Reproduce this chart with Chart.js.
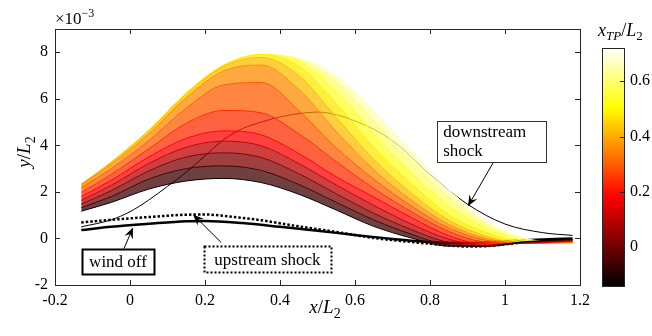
<!DOCTYPE html>
<html>
<head>
<meta charset="utf-8">
<script src="https://cdn.jsdelivr.net/npm/chart.js@4.4.1/dist/chart.umd.min.js"></script>
<style>
  html, body { margin: 0; padding: 0; background: #fff; }
  #wrap { position: relative; width: 652px; height: 336px; }
  #main { position: absolute; left: 0; top: 0; }
  #cbar { position: absolute; left: 560px; top: 0; }
</style>
</head>
<body>
<div id="wrap">
  <canvas id="main" width="652" height="336"></canvas>
  <canvas id="cbar" width="92" height="336"></canvas>
</div>
<script>
// panel deflection y/L2 (x1e-3) for each transition point x_TP/L2
const xGrid = [-0.13, -0.05, 0.05, 0.15, 0.25, 0.35, 0.45, 0.55, 0.65, 0.75, 0.85, 0.95, 1.05, 1.18];
const tpLevels = [-0.14, -0.06, 0.02, 0.10, 0.18, 0.24, 0.30, 0.36, 0.42, 0.48, 0.54, 0.60, 0.66];

const defl_m14 = [1.17, 1.55, 2.12, 2.47, 2.58, 2.40, 1.90, 1.22, 0.52, 0.02, -0.33, -0.32, -0.14, -0.03];
const defl_m06 = [1.32, 1.80, 2.55, 3.00, 3.12, 2.92, 2.32, 1.55, 0.80, 0.18, -0.28, -0.34, -0.16, -0.05];
const defl_p02 = [1.48, 2.05, 2.90, 3.50, 3.68, 3.48, 2.78, 1.92, 1.08, 0.38, -0.18, -0.33, -0.18, -0.07];
const defl_p10 = [1.64, 2.28, 3.22, 3.92, 4.18, 3.98, 3.22, 2.30, 1.42, 0.62, -0.03, -0.30, -0.19, -0.09];
const defl_p18 = [1.80, 2.50, 3.50, 4.30, 4.62, 4.45, 3.65, 2.65, 1.78, 0.90, 0.12, -0.25, -0.20, -0.11];
const defl_p24 = [1.98, 2.75, 3.85, 4.95, 5.50, 5.40, 4.50, 3.30, 2.15, 1.15, 0.30, -0.16, -0.21, -0.13];
const defl_p30 = [2.18, 3.00, 4.20, 5.60, 6.60, 6.70, 5.50, 3.90, 2.55, 1.40, 0.45, -0.08, -0.22, -0.15];
const defl_p36 = [2.33, 3.20, 4.50, 6.05, 7.20, 7.45, 6.40, 4.60, 2.95, 1.65, 0.60, 0.00, -0.21, -0.17];
const defl_p42 = [2.33, 3.28, 4.62, 6.20, 7.40, 7.78, 7.00, 5.20, 3.40, 1.95, 0.78, 0.10, -0.19, -0.18];
const defl_p48 = [2.27, 3.28, 4.65, 6.25, 7.45, 7.90, 7.40, 5.80, 3.92, 2.35, 1.02, 0.25, -0.15, -0.19];
const defl_p54 = [2.21, 3.27, 4.65, 6.25, 7.45, 7.90, 7.60, 6.35, 4.50, 2.82, 1.40, 0.45, -0.08, -0.20];
const defl_p60 = [2.16, 3.26, 4.65, 6.25, 7.45, 7.90, 7.70, 6.75, 5.05, 3.30, 1.78, 0.62, -0.02, -0.20];
const defl_p66 = [2.12, 3.25, 4.65, 6.25, 7.45, 7.90, 7.75, 7.00, 5.50, 3.75, 2.10, 0.75, 0.02, -0.20];

const deflections = [defl_m14, defl_m06, defl_p02, defl_p10, defl_p18, defl_p24, defl_p30,
                     defl_p36, defl_p42, defl_p48, defl_p54, defl_p60, defl_p66];

const shockDownX = [-0.13, -0.05, 0.0, 0.05, 0.1, 0.15, 0.2, 0.25, 0.3, 0.35, 0.4, 0.5, 0.6, 0.7, 0.8, 0.9, 1.0, 1.1, 1.18];
const shockDownY = [0.5, 0.8, 1.15, 1.65, 2.24, 2.85, 3.55, 4.25, 4.72, 5.0, 5.22, 5.43, 5.05, 4.2, 2.75, 1.47, 0.62, 0.25, 0.13];

const shockUpX = [-0.13, -0.05, 0.05, 0.15, 0.2, 0.25, 0.35, 0.45, 0.55, 0.65, 0.75, 0.85, 0.9, 0.95, 1.05, 1.18];
const shockUpY = [0.69, 0.80, 0.92, 1.02, 1.03, 0.97, 0.78, 0.52, 0.28, 0.02, -0.15, -0.30, -0.35, -0.33, -0.17, -0.05];

const windOffX = [-0.13, -0.05, 0.05, 0.15, 0.2, 0.3, 0.4, 0.5, 0.6, 0.7, 0.8, 0.9, 1.0, 1.1, 1.18];
const windOffY = [0.36, 0.50, 0.63, 0.74, 0.75, 0.66, 0.50, 0.33, 0.15, -0.02, -0.15, -0.20, -0.12, -0.04, 0.0];

const xTicks = [-0.2, 0, 0.2, 0.4, 0.6, 0.8, 1, 1.2];
const yTicks = [-2, 0, 2, 4, 6, 8];
const cbarTicks = [0, 0.2, 0.4, 0.6];
const cbarMin = -0.14, cbarMax = 0.72;

const SERIF = '"Liberation Serif"';
const AXIS = '#262626';

// matlab "hot" colormap
function hot(v) {
  const t = Math.min(1, Math.max(0, (v - cbarMin) / (cbarMax - cbarMin)));
  const r = Math.min(1, t / 0.375);
  const g = Math.min(1, Math.max(0, (t - 0.375) / 0.375));
  const b = Math.max(0, (t - 0.75) / 0.25);
  return [r, g, b].map(c => Math.round(c * 255));
}

function fmt(v) { return String(Math.round(v * 10) / 10); }

// text made of pieces: [text, size, italic, dy]
function drawRich(ctx, parts, x, y, align) {
  const fontOf = p => (p[2] ? 'italic ' : '') + p[1] + 'px ' + SERIF;
  let w = 0;
  parts.forEach(p => { ctx.font = fontOf(p); w += ctx.measureText(p[0]).width; });
  let cx = align === 'center' ? x - w / 2 : x;
  ctx.textAlign = 'left';
  ctx.textBaseline = 'alphabetic';
  parts.forEach(p => {
    ctx.font = fontOf(p);
    ctx.fillText(p[0], cx, y + (p[3] || 0));
    cx += ctx.measureText(p[0]).width;
  });
}

function arrow(ctx, x0, y0, x1, y1) {
  const ang = Math.atan2(y1 - y0, x1 - x0), L = 11, W = 4.5;
  const c = Math.cos(ang), s = Math.sin(ang);
  ctx.lineWidth = 1;
  ctx.setLineDash([]);
  ctx.beginPath();
  ctx.moveTo(x0, y0);
  ctx.lineTo(x1 - c * L * 0.6, y1 - s * L * 0.6);
  ctx.stroke();
  const bx = x1 - c * L, by = y1 - s * L;
  ctx.beginPath();
  ctx.moveTo(x1, y1);
  ctx.lineTo(bx - s * W, by + c * W);
  ctx.lineTo(x1 - c * L * 0.65, y1 - s * L * 0.65);
  ctx.lineTo(bx + s * W, by - c * W);
  ctx.closePath();
  ctx.fill();
}

// text boxes, placed in data units
const notes = [
  { lines: ['downstream', 'shock'], box: [0.819, 5.04, 1.109, 3.28], tail: [0.968, 3.24], tip: [0.901, 1.38], lw: 1, dash: [], align: 'left' },
  { lines: ['wind off'], box: [-0.128, -0.47, 0.064, -1.55], tail: [-0.016, -0.43], tip: [0.008, 0.47], lw: 2, dash: [], align: 'center' },
  { lines: ['upstream shock'], box: [0.197, -0.34, 0.536, -1.47], tail: [0.243, -0.17], tip: [0.168, 1.03], lw: 2, dash: [2, 2], align: 'center' },
];

const frame = {
  id: 'frame',
  afterDraw(chart) {
    const { ctx, chartArea: a, scales: { x, y } } = chart;
    ctx.save();
    ctx.strokeStyle = AXIS;
    ctx.lineWidth = 1;
    ctx.strokeRect(a.left + 0.5, a.top + 0.5, a.right - a.left, a.bottom - a.top);
    ctx.beginPath();
    xTicks.forEach(v => {
      const p = Math.round(x.getPixelForValue(v)) + 0.5;
      ctx.moveTo(p, a.bottom); ctx.lineTo(p, a.bottom - 5);
      ctx.moveTo(p, a.top); ctx.lineTo(p, a.top + 5);
    });
    yTicks.forEach(v => {
      const p = Math.round(y.getPixelForValue(v)) + 0.5;
      ctx.moveTo(a.left, p); ctx.lineTo(a.left + 5, p);
      ctx.moveTo(a.right, p); ctx.lineTo(a.right - 5, p);
    });
    ctx.stroke();

    ctx.fillStyle = '#000';
    // axis labels
    drawRich(ctx, [['x', 19, true], ['/', 19, false], ['L', 19, true], ['2', 14, false, 5]], 325, 313, 'center');
    ctx.save();
    ctx.translate(30, 152);
    ctx.rotate(-Math.PI / 2);
    drawRich(ctx, [['y', 19, true], ['/', 19, false], ['L', 19, true], ['2', 14, false, 5]], 0, 0, 'center');
    ctx.restore();
    drawRich(ctx, [['\u00d710', 17, false], ['\u22123', 12, false, -7]], 55, 24, 'left');

    // annotations
    notes.forEach(n => {
      const l = x.getPixelForValue(n.box[0]), t = y.getPixelForValue(n.box[1]);
      const r = x.getPixelForValue(n.box[2]), b = y.getPixelForValue(n.box[3]);
      ctx.strokeStyle = '#000';
      ctx.fillStyle = '#000';
      arrow(ctx, x.getPixelForValue(n.tail[0]), y.getPixelForValue(n.tail[1]),
                 x.getPixelForValue(n.tip[0]), y.getPixelForValue(n.tip[1]));
      ctx.fillStyle = '#fff';
      ctx.fillRect(l, t, r - l, b - t);
      ctx.lineWidth = n.lw;
      ctx.setLineDash(n.dash);
      ctx.strokeStyle = n.lw === 1 ? '#333' : '#000';
      ctx.strokeRect(Math.round(l) + 0.5, Math.round(t) + 0.5, Math.round(r - l), Math.round(b - t));
      ctx.setLineDash([]);
      ctx.fillStyle = '#000';
      ctx.font = '17px ' + SERIF;
      ctx.textBaseline = 'alphabetic';
      const mid = (t + b) / 2;
      n.lines.forEach((txt, i) => {
        const by = mid + 5 - (n.lines.length - 1) * 19 / 2 + i * 19;
        if (n.align === 'left') { ctx.textAlign = 'left'; ctx.fillText(txt, l + 6, by); }
        else { ctx.textAlign = 'center'; ctx.fillText(txt, (l + r) / 2, by); }
      });
    });
    ctx.restore();
  }
};

const familySets = deflections.map((ys, i) => {
  const [r, g, b] = hot(tpLevels[i]);
  return {
    data: xGrid.map((xv, j) => ({ x: xv, y: ys[j] })),
    borderColor: `rgb(${r},${g},${b})`,
    backgroundColor: `rgba(${r},${g},${b},0.75)`,
    borderWidth: 1,
    pointRadius: 0,
    fill: i === 0 ? false : '-1',
    cubicInterpolationMode: 'monotone',
  };
});

const lineSet = (xs, ys, width, dash) => ({
  data: xs.map((xv, j) => ({ x: xv, y: ys[j] })),
  borderColor: '#000',
  borderWidth: width,
  borderDash: dash,
  borderCapStyle: 'butt',
  pointRadius: 0,
  fill: false,
  cubicInterpolationMode: 'monotone',
});

new Chart(document.getElementById('main'), {
  type: 'line',
  data: {
    datasets: [
      ...familySets,
      lineSet(shockDownX, shockDownY, 1, []),
      lineSet(shockUpX, shockUpY, 2.5, [2.5, 2]),
      lineSet(windOffX, windOffY, 2.5, []),
    ]
  },
  options: {
    responsive: false,
    animation: false,
    events: [],
    layout: { padding: { left: 0, top: 29, right: 72, bottom: 0 } },
    plugins: { legend: { display: false }, tooltip: { enabled: false } },
    scales: {
      x: {
        type: 'linear', min: -0.2, max: 1.2,
        afterBuildTicks: s => { s.ticks = xTicks.map(v => ({ value: v })); },
        afterFit: s => { s.height = 51; },
        grid: { display: false, drawTicks: false },
        border: { display: false },
        ticks: { font: { family: SERIF, size: 16 }, color: '#000', padding: 6, maxRotation: 0, autoSkip: false, callback: v => fmt(v) }
      },
      y: {
        type: 'linear', min: -2, max: 9,
        afterBuildTicks: s => { s.ticks = yTicks.map(v => ({ value: v })); },
        afterFit: s => { s.width = 55; },
        grid: { display: false, drawTicks: false },
        border: { display: false },
        ticks: { font: { family: SERIF, size: 16 }, color: '#000', padding: 7, autoSkip: false, callback: v => fmt(v) }
      }
    }
  },
  plugins: [frame]
});

const cbarDraw = {
  id: 'cbarDraw',
  afterDraw(chart) {
    const { ctx, chartArea: a, scales: { y } } = chart;
    ctx.save();
    const g = ctx.createLinearGradient(0, y.getPixelForValue(cbarMin), 0, y.getPixelForValue(cbarMax));
    [0, 0.375, 0.75, 1].forEach(t => {
      const [r, gg, b] = hot(cbarMin + t * (cbarMax - cbarMin));
      g.addColorStop(t, `rgb(${r},${gg},${b})`);
    });
    ctx.fillStyle = g;
    ctx.fillRect(a.left, a.top, a.right - a.left, a.bottom - a.top);
    ctx.strokeStyle = AXIS;
    ctx.lineWidth = 1;
    ctx.strokeRect(a.left + 0.5, a.top + 0.5, a.right - a.left, a.bottom - a.top);
    ctx.beginPath();
    cbarTicks.forEach(v => {
      const p = Math.round(y.getPixelForValue(v)) + 0.5;
      ctx.moveTo(a.right, p); ctx.lineTo(a.right - 4, p);
    });
    ctx.stroke();
    ctx.fillStyle = '#000';
    drawRich(ctx, [['x', 18, true], ['TP', 13, true, 4], ['/', 18, false], ['L', 18, true], ['2', 13, false, 4]], 38, 36, 'left');
    ctx.restore();
  }
};

new Chart(document.getElementById('cbar'), {
  type: 'line',
  data: { datasets: [] },
  options: {
    responsive: false,
    animation: false,
    events: [],
    layout: { padding: { left: 42, top: 48, right: 0, bottom: 50 } },
    plugins: { legend: { display: false }, tooltip: { enabled: false } },
    scales: {
      x: { type: 'linear', display: false, min: 0, max: 1 },
      y: {
        type: 'linear', position: 'right', min: cbarMin, max: cbarMax,
        afterBuildTicks: s => { s.ticks = cbarTicks.map(v => ({ value: v })); },
        afterFit: s => { s.width = 28; },
        grid: { display: false, drawTicks: false },
        border: { display: false },
        ticks: { font: { family: SERIF, size: 16 }, color: '#000', padding: 6, autoSkip: false, callback: v => fmt(v) }
      }
    }
  },
  plugins: [cbarDraw]
});
</script>
</body>
</html>
